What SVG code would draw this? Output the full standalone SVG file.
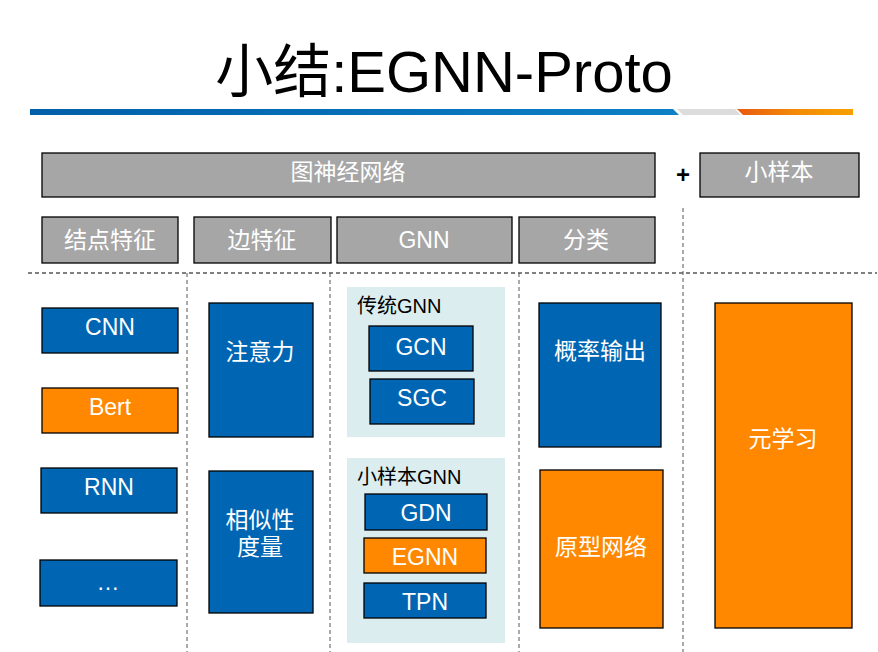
<svg xmlns="http://www.w3.org/2000/svg" width="878" height="652" viewBox="0 0 878 652">
<defs>
<linearGradient id="gb" x1="0" x2="1" y1="0" y2="0"><stop offset="0" stop-color="#005FA8"/><stop offset="1" stop-color="#0E80C6"/></linearGradient>
<linearGradient id="go" x1="0" x2="1" y1="0" y2="0"><stop offset="0" stop-color="#E85A10"/><stop offset="0.5" stop-color="#F38A08"/><stop offset="1" stop-color="#F7A000"/></linearGradient>
<style>
.gray{fill:#A6A6A6;stroke:#000;stroke-width:1.3}
.blue{fill:#0066B3;stroke:#000;stroke-width:1.3}
.orng{fill:#FF8800;stroke:#000;stroke-width:1.3}
.pan{fill:#DCEDF0}
.t{font-family:"Liberation Sans","Noto Sans CJK SC",sans-serif;font-size:23px;fill:#fff;text-anchor:middle}
.k{font-family:"Liberation Sans","Noto Sans CJK SC",sans-serif;font-size:20px;fill:#000}
.dh{stroke:#000;stroke-width:1;stroke-dasharray:4 3;fill:none}
.dv{stroke:#555;stroke-width:1;stroke-dasharray:4 3;fill:none}
</style>
</defs>
<rect width="878" height="652" fill="#fff"/>
<g id="title">
<text x="444" y="92" font-family="Liberation Sans,'Noto Sans CJK SC',sans-serif" font-size="58" text-anchor="middle" fill="#000">小结:EGNN-Proto</text>
<polygon points="30,109 673,109 679,115 30,115" fill="url(#gb)"/>
<polygon points="677,109 735,109 741,115 683,115" fill="#DCDCDC"/>
<polygon points="737,109 853,109 853,115 743,115" fill="url(#go)"/>
</g>
<g id="connectors">
<line class="dh" x1="28" y1="273" x2="877" y2="273"/>
<line class="dv" x1="187" y1="273" x2="187" y2="652"/>
<line class="dv" x1="330" y1="273" x2="330" y2="652"/>
<line class="dv" x1="519" y1="273" x2="519" y2="652"/>
<line class="dv" x1="683" y1="208" x2="683" y2="652"/>
</g>
<g id="n-gnn-top"><rect class="gray" x="42" y="153" width="613" height="44"/><text class="t" x="348" y="180">图神经网络</text></g>
<g id="plus"><text x="683" y="183" font-family="Liberation Sans,sans-serif" font-size="24" font-weight="bold" text-anchor="middle" fill="#000">+</text></g>
<g id="n-fewshot"><rect class="gray" x="700" y="153" width="159" height="44"/><text class="t" x="779" y="180">小样本</text></g>
<g id="n-node-feat"><rect class="gray" x="42" y="217" width="136" height="46"/><text class="t" x="110" y="248">结点特征</text></g>
<g id="n-edge-feat"><rect class="gray" x="194" y="217" width="137" height="46"/><text class="t" x="262" y="248">边特征</text></g>
<g id="n-gnn"><rect class="gray" x="337" y="217" width="175" height="46"/><text class="t" x="424" y="248">GNN</text></g>
<g id="n-cls"><rect class="gray" x="519" y="217" width="136" height="46"/><text class="t" x="586" y="248">分类</text></g>
<g id="n-cnn"><rect class="blue" x="42" y="308" width="136" height="45"/><text class="t" x="110" y="335">CNN</text></g>
<g id="n-bert"><rect class="orng" x="42" y="388" width="136" height="45"/><text class="t" x="110" y="415">Bert</text></g>
<g id="n-rnn"><rect class="blue" x="41" y="468" width="136" height="45"/><text class="t" x="109" y="495">RNN</text></g>
<g id="n-etc"><rect class="blue" x="40" y="560" width="137" height="46"/><text class="t" x="108" y="590">…</text></g>
<g id="n-attn"><rect class="blue" x="209" y="303" width="104" height="134"/><text class="t" x="260" y="360">注意力</text></g>
<g id="n-sim"><rect class="blue" x="209" y="471" width="104" height="142"/><text class="t" x="260" y="528">相似性</text><text class="t" x="260" y="555">度量</text></g>
<g id="p-trad"><rect class="pan" x="347" y="287" width="158" height="150"/><text class="k" x="357" y="313">传统GNN</text></g>
<g id="n-gcn"><rect class="blue" x="369" y="326" width="104" height="45"/><text class="t" x="421" y="355">GCN</text></g>
<g id="n-sgc"><rect class="blue" x="370" y="379" width="104" height="45"/><text class="t" x="422" y="406">SGC</text></g>
<g id="p-few"><rect class="pan" x="347" y="458" width="158" height="185"/><text class="k" x="357" y="484">小样本GNN</text></g>
<g id="n-gdn"><rect class="blue" x="365" y="494" width="122" height="36"/><text class="t" x="426" y="521">GDN</text></g>
<g id="n-egnn"><rect class="orng" x="364" y="538" width="122" height="35"/><text class="t" x="425" y="565">EGNN</text></g>
<g id="n-tpn"><rect class="blue" x="364" y="583" width="122" height="35"/><text class="t" x="425" y="610">TPN</text></g>
<g id="n-prob"><rect class="blue" x="539" y="303" width="122" height="144"/><text class="t" x="600" y="359">概率输出</text></g>
<g id="n-proto"><rect class="orng" x="540" y="470" width="123" height="158"/><text class="t" x="601" y="555">原型网络</text></g>
<g id="n-meta"><rect class="orng" x="715" y="303" width="137" height="325"/><text class="t" x="783" y="447">元学习</text></g>
</svg>
